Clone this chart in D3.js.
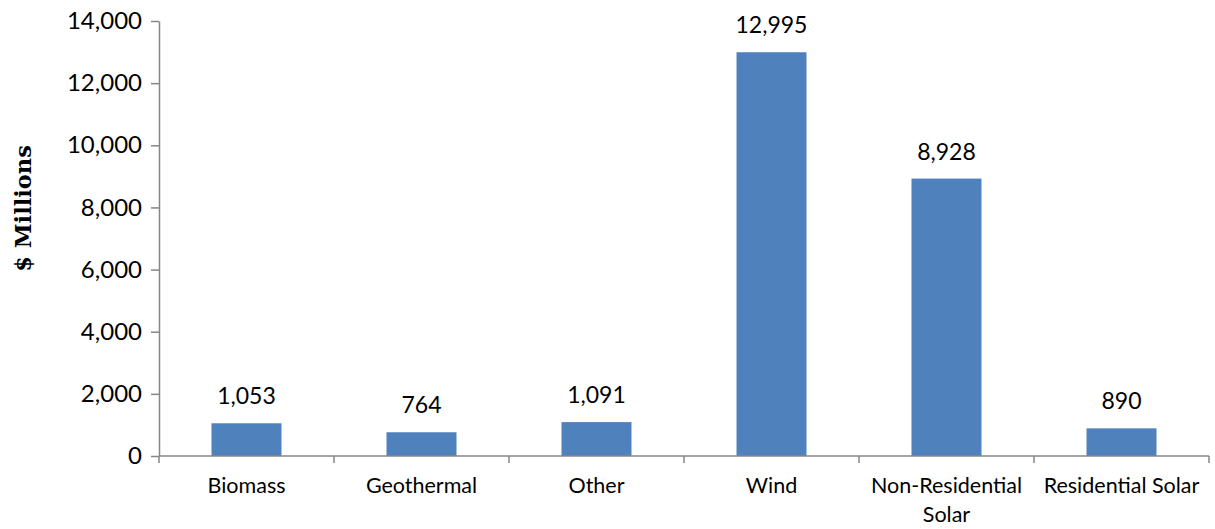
<!DOCTYPE html>
<html>
<head>
<meta charset="utf-8">
<script src="https://cdn.jsdelivr.net/npm/d3@7"></script>
<style>
	body { margin: 0; background: #fff; }
	svg { display: block; }
</style>
</head>
<body>
<div id="chart"></div>
<script>
// 数据
const categories = ['Biomass', 'Geothermal', 'Other', 'Wind', 'Non-Residential Solar', 'Residential Solar']
const values = [1053, 764, 1091, 12995, 8928, 890]
const yTicks = [0, 2000, 4000, 6000, 8000, 10000, 12000, 14000]

const width = 1215
const height = 529
const margin = ({ top: 21, right: 6, bottom: 73, left: 159 })
const font = 'Lato, "Liberation Sans", sans-serif'

const svg = d3.select('#chart')
	.append('svg')
	.attr('width', width)
	.attr('height', height)

const x = d3.scaleBand()
	.domain(categories)
	.range([margin.left, width - margin.right])
	.paddingInner(0)

const y = d3.scaleLinear()
	.domain([0, 14000])
	.range([height - margin.bottom, margin.top])

const barW = x.bandwidth() / 2.5

// bars
svg.append('g')
	.selectAll('rect')
	.data(values)
	.join('rect')
	.attr('x', (d, i) => x(categories[i]) + (x.bandwidth() - barW) / 2)
	.attr('y', d => y(d))
	.attr('width', barW)
	.attr('height', d => y(0) - y(d))
	.attr('fill', '#4F81BD')

// value labels
svg.append('g')
	.selectAll('text')
	.data(values)
	.join('text')
	.attr('x', (d, i) => x(categories[i]) + x.bandwidth() / 2)
	.attr('y', d => y(d) - 19)
	.attr('text-anchor', 'middle')
	.attr('font-family', font)
	.attr('font-size', 23)
	.attr('fill', '#000')
	.text(d => d3.format(',')(d))

// y axis
const yAxis = svg.append('g')
	.attr('transform', `translate(${margin.left},0)`)
	.call(d3.axisLeft(y).tickValues(yTicks).tickFormat(d3.format(',')).tickSize(8).tickSizeOuter(0).tickPadding(9))
yAxis.selectAll('.domain, line').attr('stroke', '#868686').attr('stroke-width', 1.5)
yAxis.selectAll('text').attr('font-family', font).attr('font-size', 24).attr('fill', '#000')

// x axis: ticks on category boundaries
const xg = svg.append('g')
	.attr('transform', `translate(0,${y(0)})`)
xg.append('line')
	.attr('x1', margin.left).attr('x2', width - margin.right)
	.attr('stroke', '#868686').attr('stroke-width', 1.5)
const bounds = categories.map(c => x(c)).concat([x.range()[1]])
xg.selectAll('.tk')
	.data(bounds)
	.join('line')
	.attr('class', 'tk')
	.attr('x1', d => d).attr('x2', d => d)
	.attr('y1', 0).attr('y2', 7)
	.attr('stroke', '#868686').attr('stroke-width', 1.5)

// category labels, wrapped when too wide
const lab = xg.selectAll('.lab')
	.data(categories)
	.join('text')
	.attr('class', 'lab')
	.attr('text-anchor', 'middle')
	.attr('font-family', font)
	.attr('font-size', 21.5)
	.attr('fill', '#000')
	.attr('transform', d => `translate(${x(d) + x.bandwidth() / 2},37)`)

lab.each(function (d) {
	const t = d3.select(this)
	const lines = d === 'Non-Residential Solar' ? ['Non-Residential', 'Solar'] : [d]
	lines.forEach((l, i) => {
		t.append('tspan').attr('x', 0).attr('dy', i === 0 ? 0 : 29).text(l)
	})
})

// y title
svg.append('text')
	.attr('transform', `translate(31,${(y(0) + y(14000)) / 2 - 30}) rotate(-90)`)
	.attr('text-anchor', 'middle')
	.attr('font-family', '"DejaVu Serif", serif')
	.attr('font-weight', 'bold')
	.attr('font-size', 22.5)
	.attr('fill', '#000')
	.text('$ Millions')
</script>
</body>
</html>
